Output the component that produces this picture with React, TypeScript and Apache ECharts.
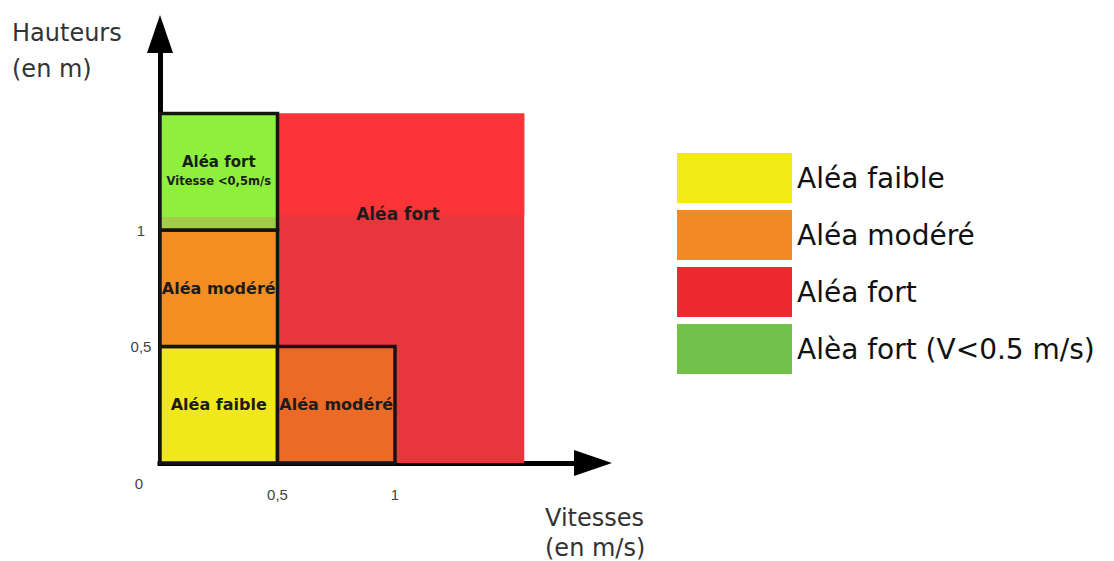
import React, { useEffect, useRef } from "react";
import * as echarts from "echarts";

// ---------- data ----------
const categories = ["Aléa faible", "Aléa modéré", "Aléa fort", "Alèa fort (V<0.5 m/s)"];
// zones: [vitesse min, vitesse max, hauteur min, hauteur max]
const faibleZones = [[0, 0.5, 0, 0.5]];
const modereZones = [
  [0, 0.5, 0.5, 1],
  [0.5, 1, 0, 0.5],
];
const fortZones = [[0.5, 1.55, 0, 1.5]];
const fortLentZones = [[0, 0.5, 1, 1.5]];

const faibleLabels = ["Aléa faible"];
const modereLabels = ["Aléa modéré", "Aléa modéré"];
const fortLabels = ["Aléa fort"];
const fortLentLabels = ["Aléa fort", "Vitesse <0,5m/s"];

const xTicks = [0.5, 1];
const yTicks = [0, 0.5, 1];
const xTitle = "Vitesses\n(en m/s)";
const yTitle = "Hauteurs\n(en m)";

// ---------- styles ----------
const legendColors = ["#f2ea14", "#f48a24", "#ec2a2f", "#72c14a"];
const faibleFills = ["#f1e81b"];
const modereFills = ["#f48d22", "#ea6a26"];
const fortFillLow = "#e9363d";
const fortFillHigh = "#fb3537";
const fortSplitH = 1.064;
const fortLabelH = 1.07;
const fortLentFill = "#8ef03c";
const fortLentBand = "#a3cc49";
const bandTop = 1.056;
const borderColor = "#141414";
const labelColor = "#1c1c1c";
const FONT = '"DejaVu Sans", Verdana, sans-serif';
const TICK_FONT = '"Liberation Sans", Arial, sans-serif';

const XMAX = 433 / 235;
const YMAX = 429 / 233;

function rectFrom(api: any, x0: number, x1: number, y0: number, y1: number) {
  const tl = api.coord([x0, y1]);
  const br = api.coord([x1, y0]);
  return { x: tl[0], y: tl[1], width: br[0] - tl[0], height: br[1] - tl[1] };
}

function boxedRender(fills: string[], labels: string[]) {
  return (params: any, api: any) => {
    const i = params.dataIndex;
    const x0 = api.value(0), x1 = api.value(1), y0 = api.value(2), y1 = api.value(3);
    const r = rectFrom(api, x0, x1, y0, y1);
    const c = api.coord([(x0 + x1) / 2, (y0 + y1) / 2]);
    return {
      type: "group",
      children: [
        { type: "rect", shape: r, style: { fill: fills[i] } },
        { type: "rect", shape: r, style: { fill: "none", stroke: borderColor, lineWidth: 3.5 } },
        {
          type: "text",
          x: c[0],
          y: c[1],
          style: {
            text: labels[i],
            fill: labelColor,
            font: `bold 16px ${FONT}`,
            align: "center",
            verticalAlign: "middle",
          },
        },
      ],
    };
  };
}

function fortRender(params: any, api: any) {
  const i = params.dataIndex;
  const x0 = api.value(0), x1 = api.value(1), y0 = api.value(2), y1 = api.value(3);
  const r = rectFrom(api, x0, x1, y0, y1);
  const up = rectFrom(api, x0, x1, fortSplitH, y1);
  const c = api.coord([(x0 + x1) / 2, fortLabelH]);
  return {
    type: "group",
    children: [
      { type: "rect", shape: r, style: { fill: fortFillLow } },
      { type: "rect", shape: up, style: { fill: fortFillHigh } },
      {
        type: "text",
        x: c[0] - 3,
        y: c[1],
        style: {
          text: fortLabels[i],
          fill: labelColor,
          font: `bold 17px ${FONT}`,
          align: "center",
          verticalAlign: "middle",
        },
      },
    ],
  };
}

function fortLentRender(params: any, api: any) {
  const x0 = api.value(0), x1 = api.value(1), y0 = api.value(2), y1 = api.value(3);
  const r = rectFrom(api, x0, x1, y0, y1);
  const band = rectFrom(api, x0, x1, y0, bandTop);
  const c = api.coord([(x0 + x1) / 2, (y0 + y1) / 2]);
  return {
    type: "group",
    children: [
      { type: "rect", shape: r, style: { fill: fortLentFill } },
      { type: "rect", shape: band, style: { fill: fortLentBand } },
      { type: "rect", shape: r, style: { fill: "none", stroke: borderColor, lineWidth: 3.5 } },
      {
        type: "text",
        x: c[0],
        y: c[1],
        style: {
          text: `{a|${fortLentLabels[0]}}\n{b|${fortLentLabels[1]}}`,
          align: "center",
          verticalAlign: "middle",
          rich: {
            a: { fontSize: 15, fontWeight: "bold", fontFamily: FONT, lineHeight: 19, fill: labelColor },
            b: { fontSize: 11.5, fontWeight: "bold", fontFamily: FONT, lineHeight: 19, fill: labelColor },
          },
        },
      },
    ],
  };
}

export default function App() {
  const ref = useRef<HTMLDivElement>(null);
  useEffect(() => {
    if (!ref.current) return;
    const chart = echarts.init(ref.current, null, { renderer: "svg" });
    const fmt = (v: number) => String(v).replace(".", ",");
    chart.setOption({
      animation: false,
      backgroundColor: "#ffffff",
      grid: { left: 160, right: 521, top: 34, bottom: 98, containLabel: false, outerBoundsMode: "none" },
      xAxis: {
        type: "value",
        min: 0,
        max: XMAX,
        splitLine: { show: false },
        axisTick: { show: false },
        axisLine: {
          show: true,
          onZero: false,
          symbol: ["none", "triangle"],
          symbolSize: [26, 38],
          lineStyle: { color: "#000", width: 5, cap: "square" },
        },
        axisLabel: {
          customValues: xTicks,
          formatter: fmt,
          margin: 24,
          fontSize: 15,
          fontFamily: TICK_FONT,
          color: "#444",
        },
      },
      yAxis: {
        type: "value",
        min: 0,
        max: YMAX,
        splitLine: { show: false },
        axisTick: { show: false },
        axisLine: {
          show: true,
          onZero: false,
          symbol: ["none", "triangle"],
          symbolSize: [26, 38],
          lineStyle: { color: "#000", width: 5, cap: "square" },
        },
        axisLabel: {
          customValues: yTicks,
          formatter: (v: number) => (v === 0 ? "{o|0}" : fmt(v)),
          align: "center",
          margin: 19,
          fontSize: 15,
          fontFamily: TICK_FONT,
          color: "#444",
          rich: {
            o: { padding: [40, 4, 0, 0], fontSize: 15, fontFamily: TICK_FONT, color: "#444" },
          },
        },
      },
      legend: {
        orient: "vertical",
        left: 677,
        top: 153,
        padding: 0,
        itemWidth: 115,
        itemHeight: 50,
        itemGap: 7,
        icon: "rect",
        selectedMode: false,
        data: categories,
        textStyle: { fontFamily: FONT, fontSize: 28, color: "#111", padding: [8, 0, 0, 0] },
      },
      graphic: [
        {
          type: "text",
          left: 12,
          top: 15,
          style: { text: yTitle, font: `24px ${FONT}`, fill: "#333", lineHeight: 36 },
        },
        {
          type: "text",
          left: 545,
          top: 503,
          style: { text: xTitle, font: `24px ${FONT}`, fill: "#333", lineHeight: 30 },
        },
      ],
      series: [
        {
          type: "custom",
          name: categories[2],
          itemStyle: { color: legendColors[2] },
          data: fortZones,
          renderItem: fortRender,
          z: 1,
        },
        {
          type: "custom",
          name: categories[0],
          itemStyle: { color: legendColors[0] },
          data: faibleZones,
          renderItem: boxedRender(faibleFills, faibleLabels),
          z: 2,
        },
        {
          type: "custom",
          name: categories[1],
          itemStyle: { color: legendColors[1] },
          data: modereZones,
          renderItem: boxedRender(modereFills, modereLabels),
          z: 2,
        },
        {
          type: "custom",
          name: categories[3],
          itemStyle: { color: legendColors[3] },
          data: fortLentZones,
          renderItem: fortLentRender,
          z: 2,
        },
      ],
    });
    return () => chart.dispose();
  }, []);
  return <div ref={ref} style={{ position: "absolute", left: 0, top: 0, width: 1114, height: 561 }} />;
}
